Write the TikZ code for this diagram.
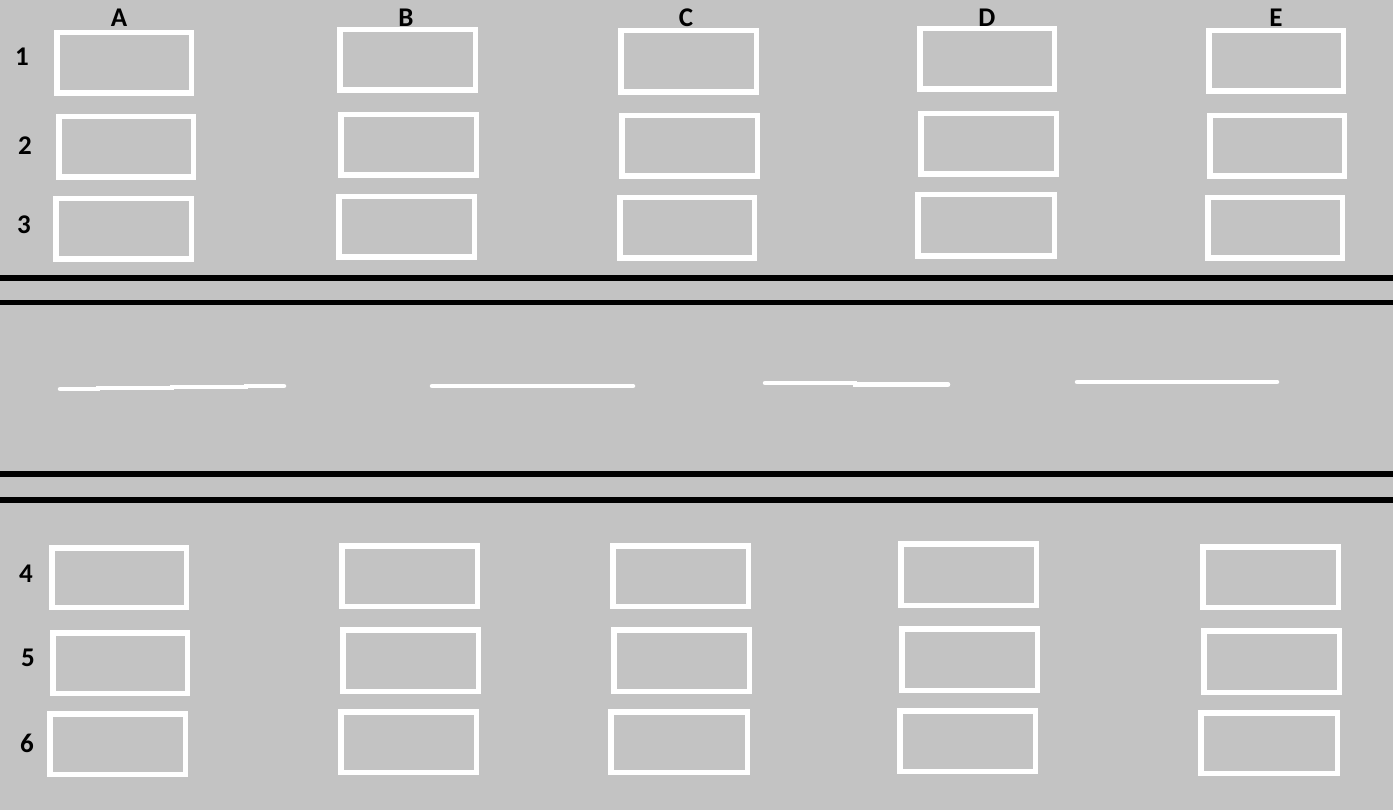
\documentclass[tikz,border=0pt]{standalone}
\usepackage{fontspec}
\setmainfont{Carlito}
\definecolor{bg}{HTML}{C3C3C3}
\tikzset{
  box/.style={draw=white, line width=5.5pt, inner sep=0pt, outer sep=0pt},
  lbl/.style={font=\bfseries\fontsize{27}{27}\selectfont, text=black, inner sep=0pt},
  road/.style={black, line width=5.5pt},
  lanemark/.style={white, line width=4.5pt, line cap=round}
}
\begin{document}
\begin{tikzpicture}[x=1pt,y=1pt]
\fill[bg] (0,0) rectangle (1393,-810);
\useasboundingbox (0,0) rectangle (1393,-810);
% boxes: name / x1 / y1 / x2 / y2 (image pixels, outer edges)
\foreach \n/\xa/\ya/\xb/\yb in {
 A1/54/30/194/96, B1/337/27/478/93, C1/618/28/759/95, D1/917/26/1057/92, E1/1206/28/1346/94,
 A2/56/114/196/180, B2/338/112/479/178, C2/619/113/760/179, D2/918/111/1059/177, E2/1207/113/1347/179,
 A3/53/196/194/262, B3/336/194/477/260, C3/617/195/757/261, D3/915/192/1057/259, E3/1205/195/1345/261,
 A4/49/545/189/610, B4/339/543/480/609, C4/610/543/751/609, D4/898/541/1039/608, E4/1200/544/1341/610,
 A5/50/630/190/696, B5/340/627/481/694, C5/611/627/752/694, D5/899/626/1040/693, E5/1201/628/1342/695,
 A6/47/711/188/777, B6/338/709/479/775, C6/608/709/750/775, D6/897/708/1038/774, E6/1198/710/1340/776}
 \node[box, minimum width={\xb-\xa-5.5}, minimum height={\yb-\ya-5.5}]
   (\n) at ({(\xa+\xb)/2},{-(\ya+\yb)/2}) {};
% column labels
\node[lbl] (lA) at (119,-18) {A};
\node[lbl] (lB) at (406,-18) {B};
\node[lbl] (lC) at (686,-18) {C};
\node[lbl] (lD) at (987,-18) {D};
\node[lbl] (lE) at (1276,-18) {E};
% row labels
\node[lbl] (r1) at (22,-57) {1};
\node[lbl] (r2) at (25,-146) {2};
\node[lbl] (r3) at (24,-225) {3};
\node[lbl] (r4) at (26,-574) {4};
\node[lbl] (r5) at (28,-658) {5};
\node[lbl] (r6) at (27,-743) {6};
% road edges
\draw[road] (0,-278) -- (1393,-278);
\draw[road] (0,-302.5) -- (1393,-302.5);
\draw[road] (0,-474) -- (1393,-474);
\draw[road] (0,-500) -- (1393,-500);
% lane markings
\draw[lanemark] (60,-389) -- (98,-389) -- (98,-388) -- (172,-388) -- (172,-387) -- (246,-387) -- (246,-386) -- (284,-386);
\draw[lanemark] (432,-386) -- (633,-386);
\draw[lanemark] (765,-383) -- (855,-383) -- (855,-384.5) -- (948,-384.5);
\draw[lanemark] (1077,-382) -- (1277,-382);
\end{tikzpicture}
\end{document}
